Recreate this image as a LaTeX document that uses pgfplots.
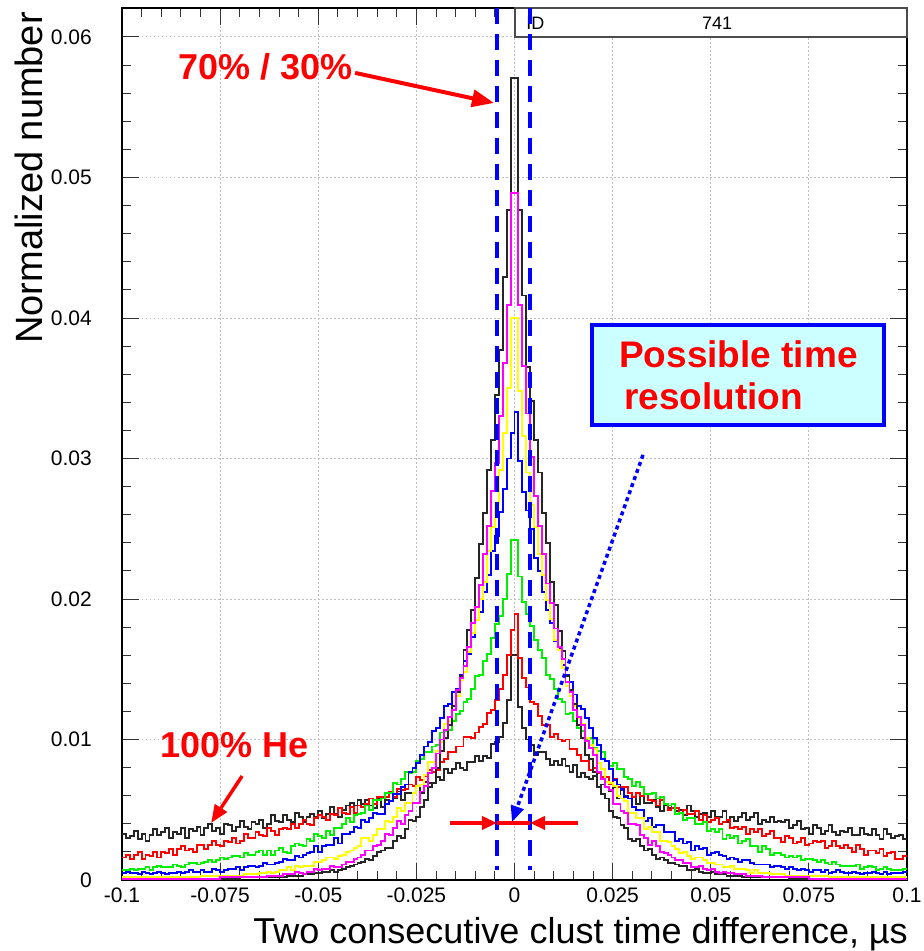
\documentclass[border=0pt]{standalone}
\usepackage{pgfplots}
\pgfplotsset{compat=1.18}
\usepackage{pgfplotstable}
\usepackage{fontspec}
\setmainfont{Liberation Sans}
\usetikzlibrary{arrows.meta}
\definecolor{boxfill}{RGB}{204,255,255}
\definecolor{hgreen}{RGB}{0,240,0}
\definecolor{hyellow}{RGB}{255,255,0}
\definecolor{hmag}{RGB}{255,0,255}

\pgfplotstableread{
x he r g bl ye ma bk
-0.100 33 16 7 5 2 1 1
-0.099 30 18 7 6 2 1 1
-0.098 31 15 8 5 2 1 1
-0.097 35 18 7 5 2 1 1
-0.096 29 20 8 4 2 1 1
-0.095 33 15 8 6 2 1 1
-0.094 28 18 9 5 2 1 1
-0.093 32 17 7 4 2 1 1
-0.092 36 20 9 5 2 1 1
-0.091 32 16 10 6 2 1 1
-0.090 34 20 9 5 2 1 1
-0.089 37 19 9 4 2 1 1
-0.088 30 22 9 5 2 1 1
-0.087 34 18 11 5 2 1 1
-0.086 33 22 10 6 2 1 1
-0.085 37 24 9 5 2 1 1
-0.084 30 21 11 6 2 1 1
-0.083 36 22 12 7 2 1 1
-0.082 35 20 12 6 2 1 1
-0.081 38 25 11 6 2 1 1
-0.080 32 25 12 7 3 1 1
-0.079 37 22 13 6 3 1 1
-0.078 40 25 14 6 3 1 1
-0.077 35 28 13 8 3 1 1
-0.076 37 25 14 7 3 1 1
-0.075 33 24 16 6 3 2 1
-0.074 40 28 15 7 3 2 1
-0.073 39 27 16 8 3 2 1
-0.072 35 30 17 8 3 2 1
-0.071 38 26 17 9 3 2 1
-0.070 42 28 16 7 3 2 2
-0.069 38 33 19 9 4 2 2
-0.068 36 30 18 10 4 2 2
-0.067 41 30 18 10 4 2 2
-0.066 40 34 20 9 4 2 2
-0.065 43 32 21 10 5 2 2
-0.064 37 31 18 12 5 2 2
-0.063 40 37 21 11 6 3 2
-0.062 46 35 18 11 5 3 2
-0.061 42 32 21 12 6 3 2
-0.060 41 36 23 13 7 3 2
-0.059 46 37 20 15 7 4 2
-0.058 43 36 19 14 9 4 3
-0.057 41 40 24 14 7 4 3
-0.056 48 37 26 17 10 6 3
-0.055 45 40 25 16 9 5 3
-0.054 41 43 24 18 10 4 4
-0.053 45 40 29 19 10 6 4
-0.052 47 39 28 20 10 6 4
-0.051 45 44 33 24 13 8 5
-0.050 49 46 31 20 13 7 5
-0.049 44 45 30 24 14 8 6
-0.048 47 43 35 25 16 8 6
-0.047 52 47 32 25 16 10 7
-0.046 47 46 37 30 15 9 6
-0.045 45 51 37 26 17 9 7
-0.044 50 48 40 33 18 11 8
-0.043 53 47 44 33 20 13 9
-0.042 55 52 41 34 21 13 10
-0.041 53 48 46 38 23 15 11
-0.040 57 53 47 37 24 16 12
-0.039 54 52 48 43 30 18 13
-0.038 57 54 53 41 30 21 15
-0.037 53 58 50 44 28 21 14
-0.036 51 54 57 48 32 24 17
-0.035 58 59 57 47 36 25 20
-0.034 52 59 58 47 36 28 21
-0.033 57 59 62 54 42 33 23
-0.032 56 63 62 56 41 32 23
-0.031 58 59 69 61 45 37 28
-0.030 63 65 68 61 51 42 31
-0.029 57 64 72 66 49 40 30
-0.028 62 65 77 68 55 46 36
-0.027 62 68 76 77 55 49 43
-0.026 62 67 77 80 62 55 42
-0.025 67 73 85 83 67 55 45
-0.024 62 71 86 89 68 63 52
-0.023 70 74 91 95 75 67 57
-0.022 69 78 91 98 84 76 66
-0.021 69 77 95 106 84 80 69
-0.020 73 78 96 108 92 90 80
-0.019 71 84 105 115 98 100 92
-0.018 79 86 106 124 111 107 101
-0.017 76 91 107 125 113 116 110
-0.016 79 91 113 134 124 121 124
-0.015 83 95 118 136 131 135 134
-0.014 80 95 120 146 142 144 145
-0.013 78 102 127 156 148 152 164
-0.012 84 102 129 161 162 166 178
-0.011 84 101 136 173 176 183 192
-0.010 88 105 145 185 185 194 215
-0.009 85 109 146 191 200 210 239
-0.008 88 111 156 205 212 232 261
-0.007 87 119 161 217 234 252 292
-0.006 97 121 172 234 251 277 313
-0.005 98 128 182 245 268 297 345
-0.004 102 136 188 262 292 330 377
-0.003 112 146 200 278 318 368 429
-0.002 128 160 218 300 350 409 477
-0.001 160 178 242 318 400 489 571
0.000 160 189 242 333 400 489 571
0.001 123 158 216 298 348 409 477
0.002 108 144 198 276 316 366 416
0.003 100 137 189 263 290 332 365
0.004 96 127 181 250 267 301 341
0.005 89 125 171 229 251 273 313
0.006 91 117 164 220 232 252 290
0.007 91 110 158 205 217 232 261
0.008 86 110 146 192 199 211 240
0.009 82 102 143 183 186 197 212
0.010 85 104 136 170 171 179 196
0.011 82 100 129 165 164 166 177
0.012 86 99 127 153 151 157 163
0.013 81 100 118 146 138 141 145
0.014 77 93 119 141 131 134 135
0.015 82 93 113 132 124 121 125
0.016 73 89 108 124 115 116 110
0.017 76 85 106 122 111 110 101
0.018 73 85 100 115 101 99 89
0.019 72 78 101 108 96 94 86
0.020 74 80 94 101 93 89 77
0.021 66 76 92 96 83 77 66
0.022 68 73 91 86 79 72 61
0.023 66 73 85 85 70 66 58
0.024 63 68 81 79 69 64 49
0.025 66 72 83 71 67 54 45
0.026 58 66 79 68 60 54 44
0.027 64 66 79 65 58 49 39
0.028 60 66 73 59 56 48 37
0.029 58 62 72 58 48 40 29
0.030 59 59 67 52 48 40 28
0.031 54 62 70 50 44 39 29
0.032 60 60 66 50 44 32 24
0.033 55 61 61 42 36 30 21
0.034 55 57 61 44 38 25 22
0.035 57 56 62 38 34 28 18
0.036 52 53 58 39 34 24 15
0.037 49 57 59 39 28 20 16
0.038 53 54 54 34 28 19 14
0.039 51 50 53 34 27 18 12
0.040 54 51 54 34 24 16 12
0.041 49 51 47 28 22 14 11
0.042 50 48 48 29 19 14 10
0.043 46 50 43 26 20 12 10
0.044 53 47 44 27 17 12 7
0.045 49 47 44 21 15 9 7
0.046 45 49 40 24 16 9 8
0.047 47 43 40 22 16 10 6
0.048 48 46 41 23 14 8 5
0.049 45 41 35 18 12 7 5
0.050 49 43 36 19 12 8 6
0.051 45 44 34 20 11 6 4
0.052 45 40 36 18 11 5 4
0.053 49 41 29 17 9 6 4
0.054 41 43 32 15 9 5 3
0.055 45 37 30 16 10 5 3
0.056 42 38 31 15 8 4 3
0.057 45 36 26 13 8 4 3
0.058 48 38 28 14 8 4 2
0.059 43 33 29 14 7 3 2
0.060 45 36 24 12 5 3 2
0.061 48 34 24 11 7 3 2
0.062 40 36 20 11 5 3 2
0.063 43 31 24 11 5 2 2
0.064 41 33 22 11 5 2 2
0.065 45 35 18 9 4 2 2
0.066 41 30 19 10 4 2 2
0.067 42 30 19 10 4 2 2
0.068 41 27 18 9 4 2 2
0.069 43 31 16 8 3 2 2
0.070 37 30 17 9 3 2 1
0.071 39 26 16 8 3 2 1
0.072 42 27 17 7 3 2 1
0.073 36 30 14 8 3 2 1
0.074 37 25 15 7 3 2 1
0.075 33 26 15 6 3 1 1
0.076 39 28 14 7 3 1 1
0.077 37 27 13 7 3 1 1
0.078 33 28 14 6 3 1 1
0.079 35 23 12 7 3 1 1
0.080 39 24 11 5 2 1 1
0.081 34 28 13 6 2 1 1
0.082 32 24 11 7 2 1 1
0.083 35 23 10 6 2 1 1
0.084 34 25 10 5 2 1 1
0.085 37 23 10 5 2 1 1
0.086 32 20 10 6 2 1 1
0.087 32 25 11 5 2 1 1
0.088 37 22 8 4 2 1 1
0.089 33 18 9 5 2 1 1
0.090 32 21 10 5 2 1 1
0.091 36 21 9 6 2 1 1
0.092 32 19 7 5 2 1 1
0.093 29 22 8 4 2 1 1
0.094 36 17 9 6 2 1 1
0.095 33 19 8 4 2 1 1
0.096 30 20 7 5 2 1 1
0.097 31 15 7 5 2 1 1
0.098 32 15 7 5 2 1 1
0.099 29 17 8 6 2 1 1
0.100 29 17 8 6 2 1 1
}\histtab

\begin{document}
\begin{tikzpicture}
\begin{axis}[
  scale only axis, width=785pt, height=872pt,
  xmin=-0.1, xmax=0.1, ymin=0, ymax=0.06206,
  xtick={-0.1,-0.075,-0.05,-0.025,0,0.025,0.05,0.075,0.1},
  xticklabels={-0.1,-0.075,-0.05,-0.025,0,0.025,0.05,0.075,0.1},
  ytick={0,0.01,0.02,0.03,0.04,0.05,0.06},
  yticklabels={0,0.01,0.02,0.03,0.04,0.05,0.06},
  minor x tick num=4, minor y tick num=4,
  tick pos=both, tick align=inside,
  major tick length=17pt, minor tick length=9pt,
  tick style={black!80, line width=0.9pt},
  axis line style={black, line width=1.5pt},
  xmajorgrids, ymajorgrids,
  major grid style={gray!50, line width=0.9pt, dash pattern=on 1.5pt off 2.5pt},
  tick label style={font=\fontsize{21}{25}\selectfont},
  xticklabel style={inner sep=0pt, yshift=-8pt, anchor=north},
  yticklabel style={inner sep=0pt, xshift=-30pt, anchor=east},
  scaled ticks=false,
  /pgf/number format/assume math mode=true,
  clip=false,
]
\addplot[const plot mark left, black!85, line width=1.9pt] table[x=x, y expr=\thisrow{he}*0.0001] {\histtab};
\addplot[const plot mark left, red, line width=1.9pt] table[x=x, y expr=\thisrow{r}*0.0001] {\histtab};
\addplot[const plot mark left, hgreen, line width=1.9pt] table[x=x, y expr=\thisrow{g}*0.0001] {\histtab};
\addplot[const plot mark left, blue, line width=1.9pt] table[x=x, y expr=\thisrow{bl}*0.0001] {\histtab};
\addplot[const plot mark left, hyellow, line width=1.9pt] table[x=x, y expr=\thisrow{ye}*0.0001] {\histtab};
\addplot[const plot mark left, black!85, line width=1.9pt] table[x=x, y expr=\thisrow{bk}*0.0001] {\histtab};
\addplot[const plot mark left, hmag, line width=1.9pt] table[x=x, y expr=\thisrow{ma}*0.0001] {\histtab};

% stats box
\draw[fill=white, draw=black!70, line width=2pt] (axis cs:0,0.06) rectangle (axis cs:0.1,0.06206);
\node[anchor=base west, inner sep=0pt, font=\fontsize{18}{21}\selectfont] at (axis cs:0.0030,0.0605) {ID};
\node[anchor=base, inner sep=0pt, font=\fontsize{18}{21}\selectfont] at (axis cs:0.0516,0.0605) {741};

% blue dashed lines
\draw[blue, line width=3.5pt, dash pattern=on 16pt off 10pt] (axis cs:-0.00446,0.06206) -- (axis cs:-0.00446,0.0007);
\draw[blue, line width=3.5pt, dash pattern=on 16pt off 10pt] (axis cs:0.00395,0.06206) -- (axis cs:0.00395,0.0007);

% red arrows at bottom
\draw[red, line width=3.5pt, -{Triangle[length=15pt,width=13pt]}] (axis cs:-0.01643,0.00406) -- (axis cs:-0.00446,0.00406);
\draw[red, line width=3.5pt, -{Triangle[length=15pt,width=13pt]}] (axis cs:0.01618,0.00406) -- (axis cs:0.00395,0.00406);
\draw[red, line width=3.5pt] (axis cs:-0.00446,0.00406) -- (axis cs:0.00395,0.00406);

% blue dotted arrow
\draw[blue, line width=3.5pt, dash pattern=on 4pt off 3.5pt, -{Triangle[length=16pt,width=13pt]}] (axis cs:0.03274,0.03025) -- (axis cs:-0.00064,0.00413);

% 70/30 label
\node[anchor=west, inner sep=0pt, text=red, font=\bfseries\fontsize{36}{42}\selectfont] at (axis cs:-0.0857,0.0579) {70\% / 30\%};
\draw[red, line width=4pt, -{Triangle[length=22pt,width=17pt]}] (axis cs:-0.0406,0.05744) -- (axis cs:-0.00522,0.0553);

% 100% He label
\node[anchor=west, inner sep=0pt, text=red, font=\bfseries\fontsize{36}{42}\selectfont] at (axis cs:-0.0902,0.00961) {100\% He};
\draw[red, line width=3.5pt, -{Triangle[length=18pt,width=14pt]}] (axis cs:-0.0694,0.0074) -- (axis cs:-0.0773,0.00406);

% box
\draw[draw=blue, line width=4.5pt, fill=boxfill] (axis cs:0.01975,0.0395) rectangle (axis cs:0.09414,0.03238);
\node[anchor=base west, inner sep=0pt, text=red, font=\bfseries\fontsize{37}{44}\selectfont] at (axis cs:0.02662,0.03644) {Possible time};
\node[anchor=base west, inner sep=0pt, text=red, font=\bfseries\fontsize{37}{44}\selectfont] at (axis cs:0.0279,0.03345) {resolution};
\end{axis}
\node[rotate=90, anchor=north east, inner sep=0pt, font=\fontsize{38}{44}\selectfont] at (-107pt,868pt) {Normalized number};
\node[anchor=base east, inner sep=0pt, font=\fontsize{36}{42}\selectfont] at (786pt,-63pt) {Two consecutive clust time difference, µs};
\path (-122pt,-71pt) rectangle (802pt,880pt);
\end{tikzpicture}
\end{document}
